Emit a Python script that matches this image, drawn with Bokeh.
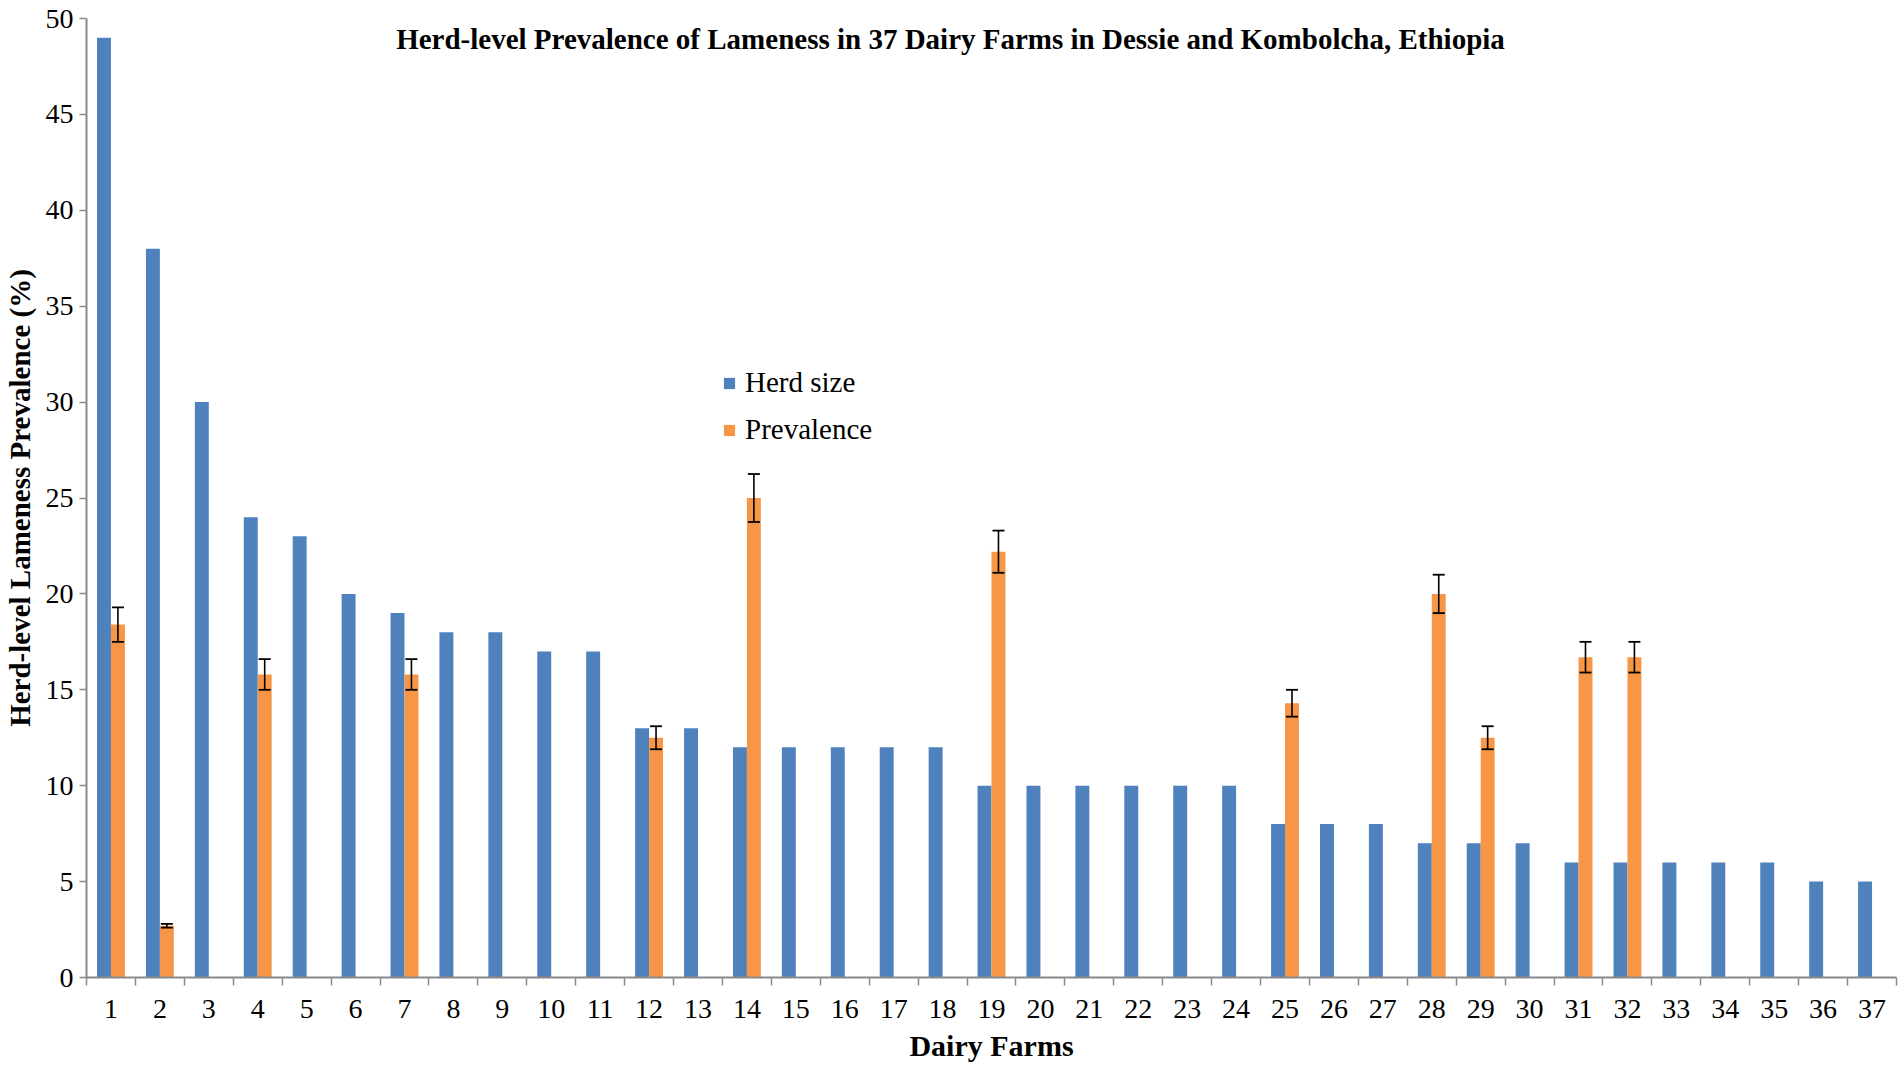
from bokeh.plotting import figure
from bokeh.models import (ColumnDataSource, FixedTicker, Whisker, TeeHead, Legend, LegendItem, Label, Range1d)
from bokeh.transform import dodge
from bokeh.embed import file_html
from bokeh.resources import INLINE

farms = list(range(1, 38))
herd_size = [49, 38, 30, 24, 23, 20, 19, 18, 18, 17, 17, 13, 13, 12, 12, 12, 12, 12,
             10, 10, 10, 10, 10, 10, 8, 8, 8, 7, 7, 7, 6, 6, 6, 6, 6, 5, 5]
prevalence = [18.4, 2.7, 0, 15.8, 0, 0, 15.8, 0, 0, 0, 0, 12.5, 0, 25.0, 0, 0, 0, 0,
              22.2, 0, 0, 0, 0, 0, 14.3, 0, 0, 20.0, 12.5, 0, 16.7, 16.7, 0, 0, 0, 0, 0]
prev_error = [0.9, 0.1, 0, 0.8, 0, 0, 0.8, 0, 0, 0, 0, 0.6, 0, 1.25, 0, 0, 0, 0,
              1.1, 0, 0, 0, 0, 0, 0.7, 0, 0, 1.0, 0.6, 0, 0.8, 0.8, 0, 0, 0, 0, 0]

BLUE = "#4F81BD"
ORANGE = "#F79646"
SERIF = "Liberation Serif"

src = ColumnDataSource(dict(farm=farms, herd=herd_size, prev=prevalence))
ef = [f for f, v in zip(farms, prevalence) if v > 0]
ev = [v for v in prevalence if v > 0]
ee = [e for v, e in zip(prevalence, prev_error) if v > 0]
esrc = ColumnDataSource(dict(farm=ef, upper=[v + e for v, e in zip(ev, ee)],
                             lower=[v - e for v, e in zip(ev, ee)]))

p = figure(width=1899, height=1066, output_backend="svg", toolbar_location=None,
           x_range=Range1d(0.5, 37.5), y_range=Range1d(0, 50),
           min_border_left=85, min_border_right=3, min_border_top=18, min_border_bottom=89)
p.outline_line_color = None
p.xgrid.visible = False
p.ygrid.visible = False

w = 0.285
r1 = p.vbar(x=dodge('farm', -w / 2, range=p.x_range), top='herd', width=w, source=src,
            fill_color=BLUE, line_color=None)
r2 = p.vbar(x=dodge('farm', w / 2, range=p.x_range), top='prev', width=w, source=src,
            fill_color=ORANGE, line_color=None)

wh = Whisker(source=esrc, base=dodge('farm', w / 2, range=p.x_range), upper='upper', lower='lower',
             line_color="black", line_width=1.6, level="overlay",
             upper_head=TeeHead(size=12, line_color="black", line_width=1.8),
             lower_head=TeeHead(size=12, line_color="black", line_width=1.8))
p.add_layout(wh)

AX = "#898989"
# x axis
p.xaxis.ticker = FixedTicker(ticks=farms, minor_ticks=[f - 0.5 for f in farms] + [37.5])
p.xaxis.major_tick_line_color = None
p.xaxis.minor_tick_line_color = AX
p.xaxis.minor_tick_line_width = 1.5
p.xaxis.minor_tick_out = 8
p.xaxis.minor_tick_in = 0
p.xaxis.axis_line_color = AX
p.xaxis.axis_line_width = 2
p.xaxis.major_label_text_font = SERIF
p.xaxis.major_label_text_font_size = "28px"
p.xaxis.major_label_text_color = "black"
p.xaxis.major_label_standoff = 14
p.xaxis.axis_label = "Dairy Farms"
p.xaxis.axis_label_text_font = SERIF
p.xaxis.axis_label_text_font_style = "bold"
p.xaxis.axis_label_text_font_size = "30px"
p.xaxis.axis_label_text_color = "black"
p.xaxis.axis_label_standoff = 8

# y axis
p.yaxis.ticker = FixedTicker(ticks=list(range(0, 51, 5)))
p.yaxis.major_tick_line_color = AX
p.yaxis.major_tick_line_width = 1.5
p.yaxis.major_tick_out = 7
p.yaxis.major_tick_in = 0
p.yaxis.minor_tick_line_color = None
p.yaxis.axis_line_color = AX
p.yaxis.axis_line_width = 2
p.yaxis.major_label_text_font = SERIF
p.yaxis.major_label_text_font_size = "28px"
p.yaxis.major_label_text_color = "black"
p.yaxis.major_label_standoff = 6
p.yaxis.axis_label = "Herd-level Lameness Prevalence (%)"
p.yaxis.axis_label_text_font = SERIF
p.yaxis.axis_label_text_font_style = "bold"
p.yaxis.axis_label_text_font_size = "29px"
p.yaxis.axis_label_text_color = "black"
p.yaxis.axis_label_standoff = 7

title = Label(x=864, y=939, x_units="screen", y_units="screen",
              text="Herd-level Prevalence of Lameness in 37 Dairy Farms in Dessie and Kombolcha, Ethiopia",
              text_font=SERIF, text_font_style="bold", text_font_size="29px",
              text_align="center", text_baseline="middle", text_color="black")
p.add_layout(title)

legend = Legend(items=[LegendItem(label="Herd size", renderers=[r1]),
                       LegendItem(label="Prevalence", renderers=[r2])],
                location=(636, 531), orientation="vertical",
                glyph_width=14, glyph_height=14, spacing=14, padding=0, margin=0,
                label_text_font=SERIF, label_text_font_size="29px", label_standoff=9,
                label_text_color="black",
                border_line_color=None, background_fill_alpha=0)
p.add_layout(legend, "center")

open("out.html", "w").write(file_html(p, INLINE))
